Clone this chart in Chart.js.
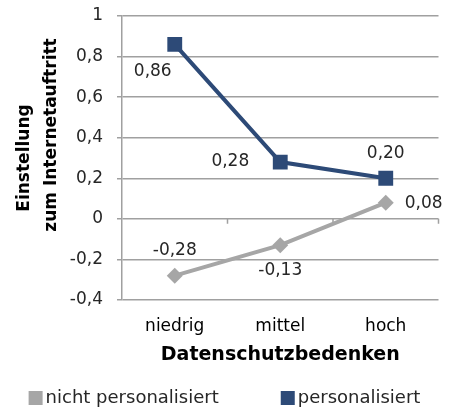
<!DOCTYPE html>
<html>
<head>
<meta charset="utf-8">
<script src="https://cdn.jsdelivr.net/npm/chart.js@4.4.1/dist/chart.umd.min.js"></script>
<style>
  html, body { margin: 0; padding: 0; background: #fff; }
  #wrap { width: 449px; height: 410px; }
</style>
</head>
<body>
<div id="wrap"><canvas id="chart" width="449" height="410"></canvas></div>
<script>
var categories = ['niedrig', 'mittel', 'hoch'];
var nichtPersonalisiert = [-0.28, -0.13, 0.08];
var personalisiert = [0.86, 0.28, 0.20];
var yTicks = [-0.4, -0.2, 0, 0.2, 0.4, 0.6, 0.8, 1];
var seriesNames = ['nicht personalisiert', 'personalisiert'];
var yTitle = ['Einstellung', 'zum Internetauftritt'];
var xTitle = 'Datenschutzbedenken';

// where each value label sits next to its point
var labelPlacement = [
    ['above', 'below', 'right'],
    ['belowLeft', 'left', 'above']
];

var GRAY = '#a6a6a6';
var NAVY = '#2d4a77';
var GRID = '#a0a0a0';
var FONT = "'DejaVu Sans', sans-serif";

function comma(v, digits) {
    return v.toFixed(digits).replace('.', ',');
}

var valueLabels = {
    id: 'valueLabels',
    afterDatasetsDraw: function(chart) {
        var ctx = chart.ctx;
        ctx.save();
        ctx.font = '17px ' + FONT;
        ctx.fillStyle = '#262626';
        ctx.textBaseline = 'middle';
        chart.data.datasets.forEach(function(ds, d) {
            var meta = chart.getDatasetMeta(d);
            meta.data.forEach(function(pt, i) {
                var txt = comma(ds.data[i], 2);
                var where = labelPlacement[d][i];
                var x = pt.x, y = pt.y;
                ctx.textAlign = 'center';
                if (where === 'above') { y -= 25; }
                else if (where === 'below') { y += 25; }
                else if (where === 'belowLeft') { x -= 22; y += 27; }
                else if (where === 'left') { ctx.textAlign = 'right'; x -= 31; }
                else if (where === 'right') { ctx.textAlign = 'left'; x += 19; y += 1; }
                ctx.fillText(txt, x, y);
            });
        });
        ctx.restore();
    }
};

var zeroTicks = {
    id: 'zeroTicks',
    beforeDatasetsDraw: function(chart) {
        var ctx = chart.ctx;
        var xs = chart.scales.x, ys = chart.scales.y;
        var y0 = ys.getPixelForValue(0);
        ctx.save();
        ctx.strokeStyle = GRID;
        ctx.lineWidth = 1.5;
        ctx.beginPath();
        for (var i = 0; i < categories.length; i++) {
            var x = i < categories.length - 1
                ? (xs.getPixelForValue(i) + xs.getPixelForValue(i + 1)) / 2
                : chart.chartArea.right;
            ctx.moveTo(x, y0);
            ctx.lineTo(x, y0 + 5);
        }
        ctx.stroke();
        ctx.restore();
    }
};

var sideTitle = {
    id: 'sideTitle',
    afterDraw: function(chart) {
        var ctx = chart.ctx;
        ctx.save();
        ctx.font = 'bold 17px ' + FONT;
        ctx.fillStyle = '#000';
        ctx.textAlign = 'center';
        ctx.textBaseline = 'middle';
        ctx.translate(25, 158);
        ctx.rotate(-Math.PI / 2);
        ctx.fillText(yTitle[0], 0, 0);
        ctx.fillText(yTitle[1], 23, 27);
        ctx.restore();
    }
};

var bottomLegend = {
    id: 'bottomLegend',
    afterDraw: function(chart) {
        var ctx = chart.ctx;
        var box = 14, gap = 3, between = 62;
        ctx.save();
        ctx.font = '18px ' + FONT;
        ctx.textBaseline = 'middle';
        ctx.textAlign = 'left';
        var widths = chart.data.datasets.map(function(ds) {
            return box + gap + ctx.measureText(ds.label).width;
        });
        var total = widths[0] + widths[1] + between;
        var x = (chart.width - total) / 2;
        var y = 398;
        chart.data.datasets.forEach(function(ds, d) {
            ctx.fillStyle = ds.borderColor;
            ctx.fillRect(x, y - 7, box, box);
            ctx.fillStyle = '#262626';
            ctx.fillText(ds.label, x + box + gap, y);
            x += widths[d] + between;
        });
        ctx.restore();
    }
};

var ctx = document.getElementById('chart').getContext('2d');
var chart = new Chart(ctx, {
    type: 'line',
    data: {
        labels: categories,
        datasets: [
            {
                label: seriesNames[0],
                data: nichtPersonalisiert,
                borderColor: GRAY,
                backgroundColor: GRAY,
                borderWidth: 4,
                pointStyle: 'rectRot',
                pointRadius: 8,
                pointBorderWidth: 0,
                fill: false
            },
            {
                label: seriesNames[1],
                data: personalisiert,
                borderColor: NAVY,
                backgroundColor: NAVY,
                borderWidth: 4,
                pointStyle: 'rect',
                pointRadius: 10.5,
                pointBorderWidth: 0,
                fill: false
            }
        ]
    },
    options: {
        responsive: false,
        animation: false,
        devicePixelRatio: 1,
        layout: { padding: { left: 0, right: 9, top: 16, bottom: 40 } },
        plugins: {
            legend: { display: false },
            tooltip: { enabled: false }
        },
        scales: {
            x: {
                offset: true,
                grid: { display: false, drawTicks: false },
                border: { display: false },
                ticks: { font: { family: FONT, size: 17 }, color: '#000', padding: 16 },
                title: {
                    display: true,
                    text: xTitle,
                    font: { family: FONT, size: 19, weight: 'bold' },
                    color: '#000',
                    padding: { top: 4, bottom: 4 }
                },
                afterFit: function(scale) { scale.height = 70; }
            },
            y: {
                min: -0.4,
                max: 1,
                afterBuildTicks: function(axis) {
                    axis.ticks = yTicks.map(function(v) { return { value: v }; });
                },
                grid: { color: GRID, lineWidth: 1.5, tickLength: 5 },
                border: { color: GRID, width: 1.5 },
                ticks: {
                    font: { family: FONT, size: 17 },
                    color: '#262626',
                    padding: 14,
                    callback: function(v) {
                        if (v === 0 || v === 1) return String(v);
                        return comma(v, 1);
                    }
                },
                afterFit: function(scale) {
                    scale.width = 122;
                    scale.paddingTop = 0;
                    scale.paddingBottom = 0;
                }
            }
        }
    },
    plugins: [zeroTicks, valueLabels, sideTitle, bottomLegend]
});
</script>
</body>
</html>
